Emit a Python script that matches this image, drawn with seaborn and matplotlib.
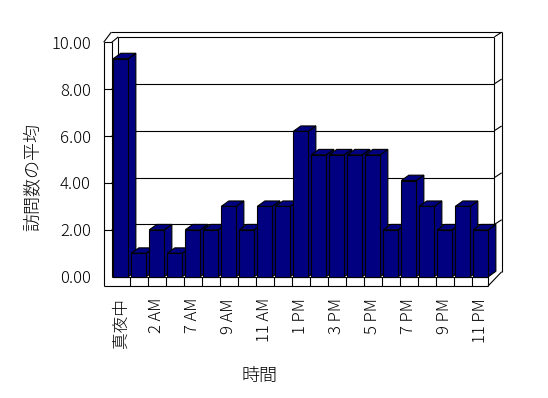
import matplotlib
matplotlib.use("Agg")
import matplotlib.pyplot as plt
import seaborn as sns
import pandas as pd
from matplotlib.patches import Polygon

# ---- data ----
hours = ["真夜中", "1 AM", "2 AM", "6 AM", "7 AM", "8 AM", "9 AM", "10 AM",
         "11 AM", "12 PM", "1 PM", "2 PM", "3 PM", "4 PM", "5 PM", "6 PM",
         "7 PM", "8 PM", "9 PM", "10 PM", "11 PM"]
visits = [9.3, 1.0, 2.0, 1.0, 2.0, 2.0, 3.0, 2.0, 3.0, 3.0, 6.2,
          5.2, 5.2, 5.2, 5.2, 2.0, 4.1, 3.0, 2.0, 3.0, 2.0]
yticks = [0, 2, 4, 6, 8, 10]
x_title = "時間"
y_title = "訪問数の平均"

# ---- style ----
sns.set_style("white")
plt.rcParams['font.family'] = ['Noto Sans CJK JP', 'DejaVu Sans']
plt.rcParams['font.weight'] = 'light'
plt.rcParams['axes.labelweight'] = 'light'
plt.rcParams['text.color'] = 'black'
plt.rcParams['axes.labelcolor'] = 'black'
plt.rcParams['xtick.color'] = 'black'
plt.rcParams['ytick.color'] = 'black'
plt.rcParams['font.size'] = 12
NAVY = "#000080"
LW = 0.8

fig = plt.figure(figsize=(5.48, 3.98), dpi=100)
ax = fig.add_axes([0.18759, 0.27827, 0.72920, 0.64799])

df = pd.DataFrame({x_title: hours, y_title: visits})
sns.barplot(data=df, x=x_title, y=y_title, order=hours, color=NAVY,
            saturation=1, edgecolor="black", linewidth=LW, width=0.833,
            errorbar=None, ax=ax)

ax.set_xlim(-1.0, 21.2)
ax.set_ylim(-0.45, 10.55)
for s in ax.spines.values():
    s.set_visible(False)
ax.grid(False)
ax.set_facecolor("white")

# 3D faces of the bars, derived from the seaborn bars
BDX, BDY = 0.42, 0.23
for i, p in enumerate(ax.patches):
    x0, y0, w, h = p.get_x(), p.get_y(), p.get_width(), p.get_height()
    z = 3 + i * 0.01
    p.set_zorder(z + 0.005)
    side = Polygon([(x0 + w, y0), (x0 + w + BDX, y0 + BDY),
                    (x0 + w + BDX, y0 + h + BDY), (x0 + w, y0 + h)],
                   closed=True, fc=NAVY, ec="black", lw=LW, zorder=z)
    top = Polygon([(x0, y0 + h), (x0 + w, y0 + h),
                   (x0 + w + BDX, y0 + h + BDY), (x0 + BDX, y0 + h + BDY)],
                  closed=True, fc=NAVY, ec="black", lw=LW, zorder=z)
    ax.add_patch(side)
    ax.add_patch(top)

# ---- walls / floor frame ----
n = len(hours)
WX0, WX1 = -0.95, -0.5          # left wall outer / inner front edge
DX, DY = 0.36, 0.23             # wall depth
XR = n - 0.6                    # front right end of floor
XB = XR + DX                    # back right
XO = XB + 0.40                  # outer right
FB = -0.4                       # floor front bottom
TOP = yticks[-1]
OT = TOP + DY + 0.20            # outer top


def seg(x, y, zo=1):
    ax.plot(x, y, color="black", lw=LW, zorder=zo, clip_on=False,
            solid_capstyle="butt")


# left wall front face
seg([WX0, WX0], [FB, TOP], 6)
seg([WX1, WX1], [0, TOP], 6)
seg([WX0, WX1], [TOP, TOP], 6)
# left wall top
seg([WX0, WX1 - 0.03], [TOP, OT], 1)
seg([WX1, WX1 + DX], [TOP, TOP + DY], 1)
# back wall
seg([WX1 + DX, WX1 + DX], [DY, TOP + DY], 1)
seg([WX1 + DX, XB], [TOP + DY, TOP + DY], 1)
seg([WX1 - 0.03, XO], [OT, OT], 1)
seg([XB, XB], [DY, TOP + DY], 1)
seg([XO, XO], [0.21, OT], 1)
seg([XB, XO], [TOP + DY, OT], 1)
# floor
seg([WX0, XR], [FB, FB], 6)
seg([WX1, XR], [0, 0], 6)
seg([XR, XR], [FB, 0], 6)
for i in range(n - 1):
    seg([i + 0.5, i + 0.5], [FB, 0], 6)
seg([WX1 + DX, XB], [DY, DY], 1)
seg([XR, XB], [0, DY], 1)
seg([XR, XO], [FB, 0.21], 1)
# gridlines on walls
for v in yticks[1:-1]:
    seg([WX0, WX1], [v, v], 6)
    seg([WX1, WX1 + DX], [v, v + DY], 1)
    seg([WX1 + DX, XB], [v + DY, v + DY], 1)
    seg([XB, XO], [v + DY, v + 0.43], 1)

# ---- ticks & labels ----
ax.set_yticks(yticks)
ax.set_yticklabels([f"{v:.2f}" for v in yticks])
ax.set_xticks(range(n))
ax.set_xticklabels([h if i % 2 == 0 else "" for i, h in enumerate(hours)],
                   rotation=90)
ax.tick_params(axis="both", length=0, colors="black", labelsize=12)
ax.tick_params(axis="y", pad=8.5)
ax.tick_params(axis="x", pad=7.8)

ax.set_xlabel(x_title, fontsize=13, fontweight="light", color="black")
ax.xaxis.set_label_coords(0.391, -0.344)
ax.xaxis.label.set_va("center")
ax.set_ylabel(y_title, fontsize=13, fontweight="light", color="black")
ax.yaxis.set_label_coords(-0.177, 0.429)
ax.yaxis.label.set_va("center")
ax.yaxis.label.set_ha("center")

fig.savefig("out.png", dpi=100, facecolor="white")
